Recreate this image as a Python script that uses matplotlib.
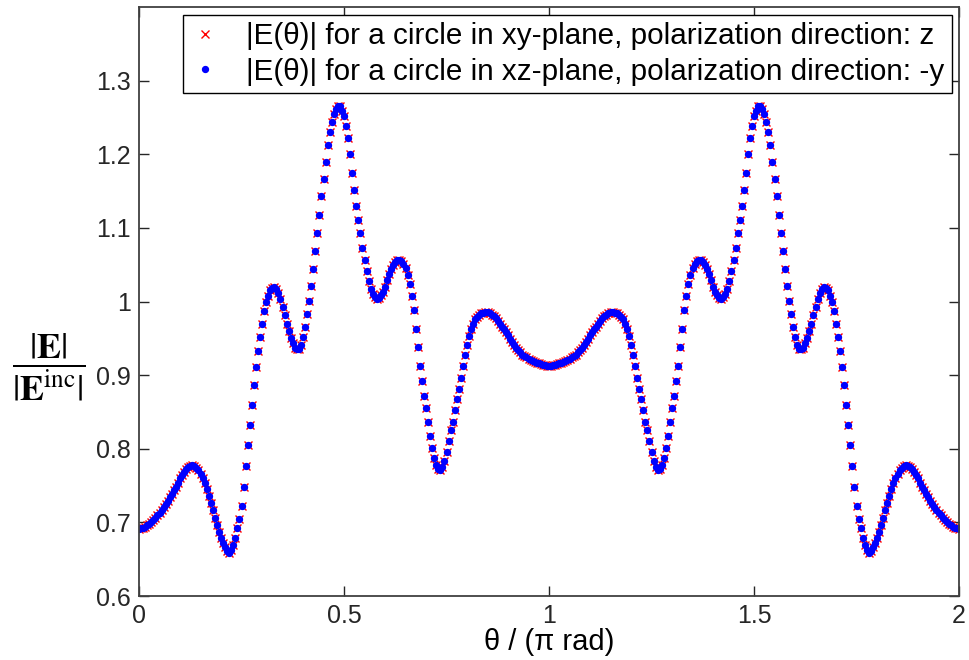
import numpy as np
import matplotlib.pyplot as plt

plt.rcParams['font.family'] = ['Liberation Sans', 'DejaVu Sans']
plt.rcParams['mathtext.fontset'] = 'stix'

# |E| / |E_inc| on theta/pi = 0 ... 1 in steps of 0.005; the other half mirrors it
half_field = [
    0.691, 0.692, 0.693, 0.694, 0.696, 0.698, 0.700, 0.703, 0.706, 0.710,
    0.713, 0.717, 0.721, 0.725, 0.729, 0.734, 0.739, 0.744, 0.748, 0.754,
    0.760, 0.765, 0.769, 0.773, 0.775, 0.777, 0.778, 0.777, 0.774, 0.771,
    0.766, 0.760, 0.754, 0.745, 0.736, 0.726, 0.717, 0.706, 0.696, 0.687,
    0.679, 0.672, 0.666, 0.661, 0.659, 0.662, 0.669, 0.679, 0.692, 0.705,
    0.722, 0.748, 0.777, 0.805, 0.832, 0.860, 0.887, 0.911, 0.933, 0.952,
    0.969, 0.987, 0.999, 1.008, 1.015, 1.019, 1.020, 1.017, 1.012, 1.003,
    0.993, 0.982, 0.970, 0.960, 0.950, 0.943, 0.937, 0.935, 0.936, 0.941,
    0.952, 0.966, 0.983, 1.001, 1.021, 1.044, 1.068, 1.093, 1.118, 1.143,
    1.167, 1.190, 1.212, 1.230, 1.244, 1.254, 1.261, 1.265, 1.265, 1.259,
    1.252, 1.238, 1.222, 1.201, 1.175, 1.152, 1.130, 1.111, 1.093, 1.073,
    1.057, 1.041, 1.028, 1.017, 1.010, 1.006, 1.004, 1.005, 1.009, 1.013,
    1.020, 1.029, 1.037, 1.044, 1.050, 1.054, 1.056, 1.057, 1.055, 1.051,
    1.046, 1.036, 1.024, 1.007, 0.988, 0.963, 0.938, 0.912, 0.892, 0.872,
    0.855, 0.836, 0.817, 0.801, 0.788, 0.778, 0.773, 0.771, 0.775, 0.784,
    0.796, 0.811, 0.825, 0.837, 0.852, 0.867, 0.881, 0.896, 0.913, 0.928,
    0.941, 0.953, 0.962, 0.970, 0.976, 0.979, 0.982, 0.984, 0.985, 0.986,
    0.986, 0.985, 0.982, 0.980, 0.977, 0.974, 0.970, 0.966, 0.962, 0.958,
    0.954, 0.949, 0.945, 0.941, 0.937, 0.934, 0.931, 0.928, 0.926, 0.924,
    0.922, 0.920, 0.919, 0.918, 0.917, 0.916, 0.915, 0.914, 0.914, 0.913,
    0.913,
]
half_theta = np.linspace(0, 1, len(half_field))

theta = np.concatenate([half_theta, 2 - half_theta[-2::-1]])
field = np.concatenate([half_field, half_field[-2::-1]])

label_xy = '|E(\u03b8)| for a circle in xy-plane, polarization direction: z'
label_xz = '|E(\u03b8)| for a circle in xz-plane, polarization direction: -y'

fig = plt.figure(figsize=(9.69, 6.60), dpi=100)
ax = fig.add_axes([139 / 969, 64 / 660, 820 / 969, 589 / 660])

ax.plot(theta, field, 'x', color='#ff0000', markersize=6, markeredgewidth=1.0,
        label=label_xy)
ax.plot(theta, field, '.', color='#0000ff', markersize=8.5, label=label_xz)

ax.set_xlim(0, 2)
ax.set_ylim(0.6, 1.4)
ax.set_xticks([0, 0.5, 1, 1.5, 2])
ax.set_xticklabels(['0', '0.5', '1', '1.5', '2'])
ax.set_yticks([0.6, 0.7, 0.8, 0.9, 1.0, 1.1, 1.2, 1.3])
ax.set_yticklabels(['0.6', '0.7', '0.8', '0.9', '1', '1.1', '1.2', '1.3'])
ax.tick_params(direction='in', length=7, width=1, top=True, right=True,
               labelsize=18, colors='#262626', pad=6)
for s in ax.spines.values():
    s.set_color('#404040')
    s.set_linewidth(1.3)

ax.set_xlabel('\u03b8 / (\u03c0 rad)', fontsize=21, labelpad=0)
fig.text(49 / 969, 1 - 367 / 660, r'$\dfrac{|\mathbf{E}|}{|\mathbf{E}^{\mathrm{inc}}|}$',
         fontsize=26, ha='center', va='center')

leg = ax.legend(loc='upper right', bbox_to_anchor=(952 / 969, 1 - 15 / 660),
                bbox_transform=fig.transFigure, borderaxespad=0, fontsize=21.3,
                numpoints=1, handlelength=1.0, handletextpad=0.9,
                labelspacing=0.25, borderpad=0.25, fancybox=False,
                framealpha=1, edgecolor='black')
leg.get_frame().set_linewidth(1.0)

fig.savefig('out.png', dpi=100)
